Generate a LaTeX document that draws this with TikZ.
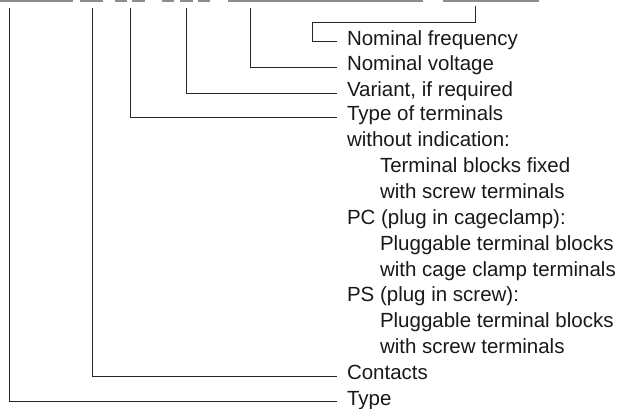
\documentclass[tikz,border=0pt]{standalone}
\usepackage{fontspec}
\setmainfont{Liberation Sans}
\begin{document}
\begin{tikzpicture}[x=1pt,y=-1pt,
  label/.style={anchor=west,inner xsep=0pt,inner ysep=0pt,outer xsep=10pt,outer ysep=0pt,
    text height=0.72em,text depth=0pt,text=black!90,font=\fontsize{20.5}{25}\selectfont},
  lead/.style={line width=0.9pt,draw=black!85},
  bar/.style={line width=2pt,draw=black!45}]
\useasboundingbox (0,0) rectangle (627,409);

% Code
\foreach \a/\b in {0/73,80/103,115/127,132/145,162/174,180/193,198/210,228/423,443/539}
  \draw[bar] (\a,1) -- (\b,1);

% Labels
\node[label] (freq) at (337,41.7) {Nominal frequency};
\node[label] (volt) at (337,67.3) {Nominal voltage};
\node[label] (var) at (337,93) {Variant, if required};
\node[label] (term) at (337,117) {Type of terminals};
\node[label] (fix) at (337,142.9) {without indication:};
\node[label] (fixa) at (370,168.8) {Terminal blocks fixed};
\node[label] (fixb) at (370,194.7) {with screw terminals};
\node[label] (pc) at (337,220.6) {PC (plug in cageclamp):};
\node[label] (pca) at (370,246.5) {Pluggable terminal blocks};
\node[label] (pcb) at (370,272.4) {with cage clamp terminals};
\node[label] (ps) at (337,298.3) {PS (plug in screw):};
\node[label] (psa) at (370,324.2) {Pluggable terminal blocks};
\node[label] (psb) at (370,350.1) {with screw terminals};
\node[label] (cont) at (337,376) {Contacts};
\node[label] (type) at (337,401.9) {Type};

% Leads
\coordinate (ttype) at (9.3,8);
\coordinate (tcont) at (92.7,8);
\coordinate (tterm) at (130,8);
\coordinate (tvar) at (186.7,8);
\coordinate (tvolt) at (250.7,8);
\coordinate (tfreq) at (475.7,6);
\coordinate (kfreq) at (312.7,22.3);

\draw[lead] (ttype) |- (type);
\draw[lead] (tcont) |- (cont);
\draw[lead] (tterm) |- (term);
\draw[lead] (tvar) |- (var);
\draw[lead] (tvolt) |- (volt);
\draw[lead] (tfreq) |- (kfreq) |- (freq);
\end{tikzpicture}
\end{document}
